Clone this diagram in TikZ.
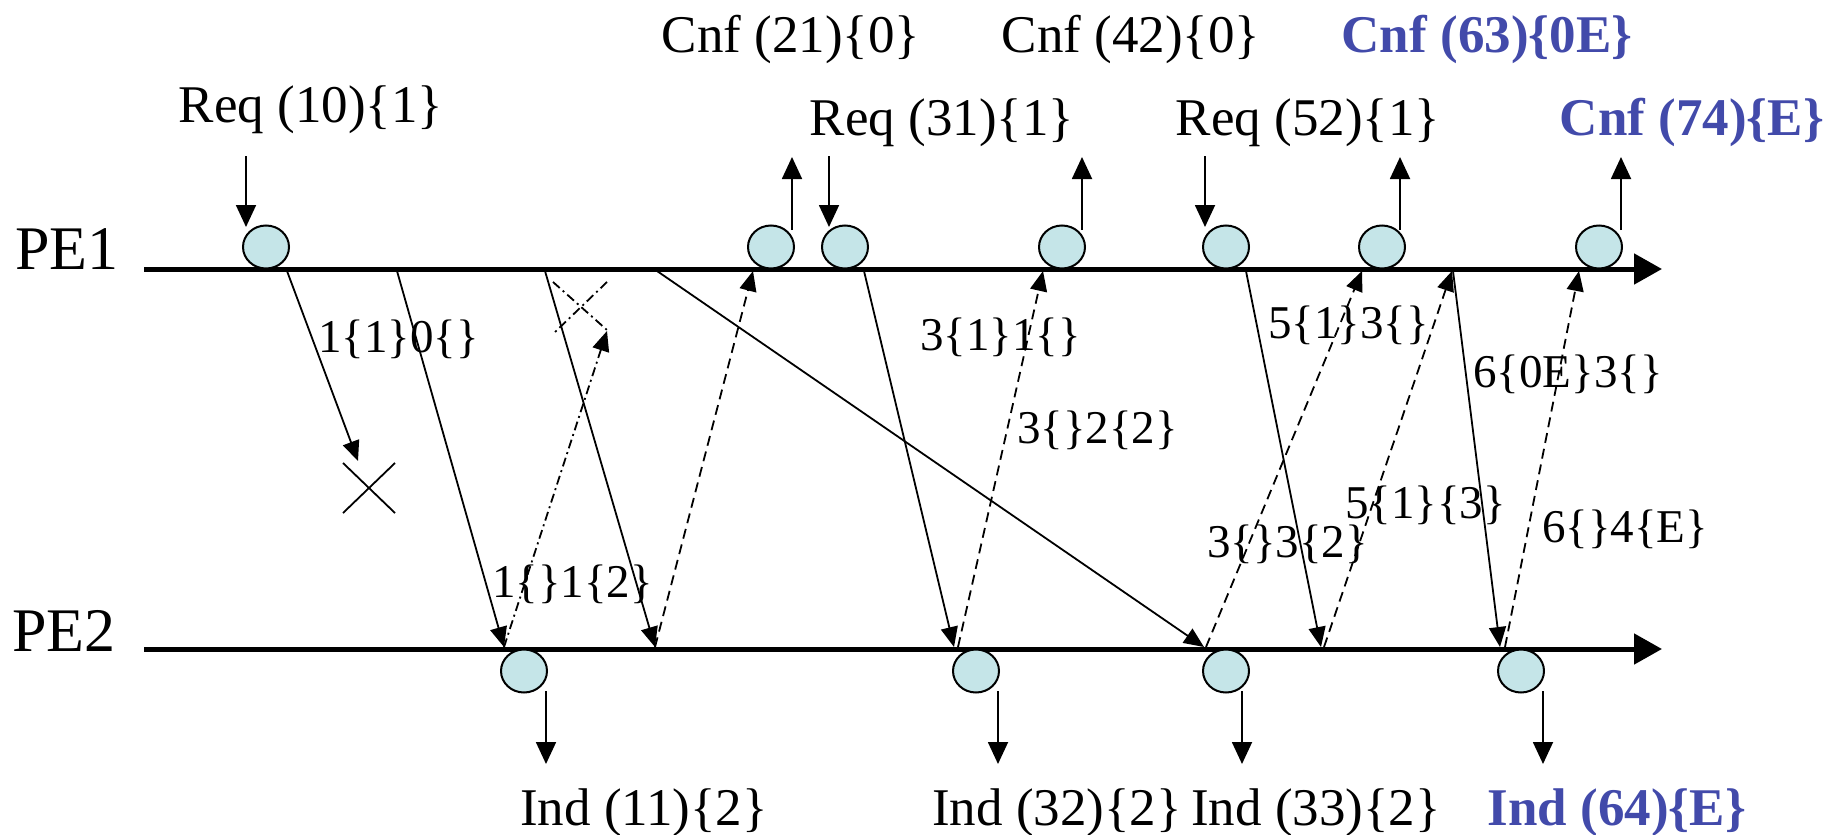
\documentclass[tikz,border=0pt]{standalone}
\usepackage{fontspec}
\setmainfont{Liberation Serif}
\usetikzlibrary{arrows.meta,shapes.geometric}
\definecolor{cfill}{RGB}{197,229,232}
\definecolor{hblue}{RGB}{66,74,170}
\begin{document}
\begin{tikzpicture}[x=1pt,y=-1pt,
  peline/.style={line width=5pt,-{Triangle[length=28pt,width=30pt]}},
  msg/.style={line width=1.8pt,-{Triangle[length=20pt,width=17pt]}},
  msgd/.style={msg,dash pattern=on 10pt off 6pt},
  msgdd/.style={msg,dash pattern=on 9pt off 4pt on 2pt off 4pt},
  vert/.style={line width=1.8pt,-{Triangle[length=22pt,width=20pt]}},
  ev/.style={ellipse,draw,line width=2pt,fill=cfill,minimum width=46pt,minimum height=43pt,inner sep=0pt},
  txt/.style={font=\fontsize{53}{60}\selectfont,inner sep=0pt,anchor=base},
  btxt/.style={font=\fontsize{53}{60}\selectfont\bfseries,text=hblue,inner sep=0pt,anchor=base},
  lbl/.style={font=\fontsize{47}{54}\selectfont,inner sep=0pt,anchor=base west},
  petxt/.style={font=\fontsize{62}{70}\selectfont,inner sep=0pt,anchor=base west},
  xmark/.style={line width=1.8pt}]
\useasboundingbox (0,0) rectangle (1847,835);

% process lines
\node[petxt] (pe1t) at (15,269) {PE1};
\node[petxt] (pe2t) at (12,651) {PE2};
\coordinate (pe1s) at (144,269);
\coordinate (pe1e) at (1662,269);
\coordinate (pe2s) at (144,649);
\coordinate (pe2e) at (1662,649);

% messages (drawn before the lines)
\coordinate (m1a) at (287,271);  \coordinate (m1b) at (358,461);
\coordinate (m2a) at (397,271);  \coordinate (m2b) at (504,647);
\coordinate (m3a) at (545,271);  \coordinate (m3b) at (655,647);
\coordinate (m4a) at (504,647);  \coordinate (m4b) at (607,331);
\coordinate (m5a) at (657,271);  \coordinate (m5b) at (1204,647);
\coordinate (m6a) at (655,647);  \coordinate (m6b) at (753,271);
\coordinate (m7a) at (864,271);  \coordinate (m7b) at (954,647);
\coordinate (m8a) at (958,647);  \coordinate (m8b) at (1043,271);
\coordinate (m9a) at (1246,271); \coordinate (m9b) at (1321,647);
\coordinate (m10a) at (1206,647); \coordinate (m10b) at (1362,271);
\coordinate (m11a) at (1324,647); \coordinate (m11b) at (1452,271);
\coordinate (m12a) at (1453,271); \coordinate (m12b) at (1500,647);
\coordinate (m13a) at (1505,647); \coordinate (m13b) at (1579,271);

\draw[msg] (m1a) -- (m1b);
\draw[msg] (m2a) -- (m2b);
\draw[msg] (m3a) -- (m3b);
\draw[msgdd] (m4a) -- (m4b);
\draw[msg] (m5a) -- (m5b);
\draw[msgd] (m6a) -- (m6b);
\draw[msg] (m7a) -- (m7b);
\draw[msgd] (m8a) -- (m8b);
\draw[msg] (m9a) -- (m9b);
\draw[msgd] (m10a) -- (m10b);
\draw[msgd] (m11a) -- (m11b);
\draw[msg] (m12a) -- (m12b);
\draw[msgd] (m13a) -- (m13b);

% lost-message crosses
\coordinate (x1) at (369,488);
\draw[xmark] (x1) +(-26,-25) -- +(26,25);
\draw[xmark] (x1) +(26,-25) -- +(-26,25);
\coordinate (x2) at (580,306);
\draw[xmark,dash pattern=on 9pt off 4pt on 2pt off 4pt] (x2) +(-27,-24) -- +(27,24);
\draw[xmark,dash pattern=on 9pt off 4pt on 2pt off 4pt] (x2) +(27,-24) -- +(-25,26);

\draw[peline] (pe1s) -- (pe1e);
\draw[peline] (pe2s) -- (pe2e);

% events on PE1
\node[ev] (e11) at (266,247) {};
\node[ev] (e12) at (771,247) {};
\node[ev] (e13) at (845,247) {};
\node[ev] (e14) at (1062,247) {};
\node[ev] (e15) at (1226,247) {};
\node[ev] (e16) at (1382,247) {};
\node[ev] (e17) at (1599,247) {};
% events on PE2
\node[ev] (e21) at (524,671) {};
\node[ev] (e22) at (976,671) {};
\node[ev] (e23) at (1226,671) {};
\node[ev] (e24) at (1521,671) {};

% top texts
\node[txt] (cnf21) at (791,52) {Cnf (21)\{0\}};
\node[txt] (cnf42) at (1131,52) {Cnf (42)\{0\}};
\node[btxt] (cnf63) at (1487,52) {Cnf (63)\{0E\}};
\node[txt] (req10) at (311,122) {Req (10)\{1\}};
\node[txt] (req31) at (942,135) {Req (31)\{1\}};
\node[txt] (req52) at (1308,135) {Req (52)\{1\}};
\node[btxt] (cnf74) at (1692,135) {Cnf (74)\{E\}};

% bottom texts
\node[txt] (ind11) at (644,825) {Ind (11)\{2\}};
\node[txt] (ind32) at (1057,825) {Ind (32)\{2\}};
\node[txt] (ind33) at (1316,825) {Ind (33)\{2\}};
\node[btxt] (ind64) at (1617,825) {Ind (64)\{E\}};

% vertical arrows PE1
\coordinate (v1a) at (246,156); \coordinate (v1b) at (246,227);
\coordinate (v2a) at (792,230); \coordinate (v2b) at (792,157);
\coordinate (v3a) at (829,156); \coordinate (v3b) at (829,227);
\coordinate (v4a) at (1082,230); \coordinate (v4b) at (1082,157);
\coordinate (v5a) at (1205,156); \coordinate (v5b) at (1205,227);
\coordinate (v6a) at (1400,230); \coordinate (v6b) at (1400,157);
\coordinate (v7a) at (1621,230); \coordinate (v7b) at (1621,157);
\draw[vert] (v1a) -- (v1b);
\draw[vert] (v2a) -- (v2b);
\draw[vert] (v3a) -- (v3b);
\draw[vert] (v4a) -- (v4b);
\draw[vert] (v5a) -- (v5b);
\draw[vert] (v6a) -- (v6b);
\draw[vert] (v7a) -- (v7b);
% vertical arrows PE2
\coordinate (w1a) at (546,691); \coordinate (w1b) at (546,764);
\coordinate (w2a) at (998,691); \coordinate (w2b) at (998,764);
\coordinate (w3a) at (1242,691); \coordinate (w3b) at (1242,764);
\coordinate (w4a) at (1543,691); \coordinate (w4b) at (1543,764);
\draw[vert] (w1a) -- (w1b);
\draw[vert] (w2a) -- (w2b);
\draw[vert] (w3a) -- (w3b);
\draw[vert] (w4a) -- (w4b);

% message labels
\node[lbl] (l1) at (318,352) {1\{1\}0\{\}};
\node[lbl] (l2) at (920,350) {3\{1\}1\{\}};
\node[lbl] (l3) at (1017,443) {3\{\}2\{2\}};
\node[lbl] (l4) at (1268,338) {5\{1\}3\{\}};
\node[lbl] (l5) at (1473,387) {6\{0E\}3\{\}};
\node[lbl] (l6) at (1345,518) {5\{1\}\{3\}};
\node[lbl] (l7) at (1207,557) {3\{\}3\{2\}};
\node[lbl] (l8) at (1542,542) {6\{\}4\{E\}};
\node[lbl] (l9) at (492,597) {1\{\}1\{2\}};
\end{tikzpicture}
\end{document}
